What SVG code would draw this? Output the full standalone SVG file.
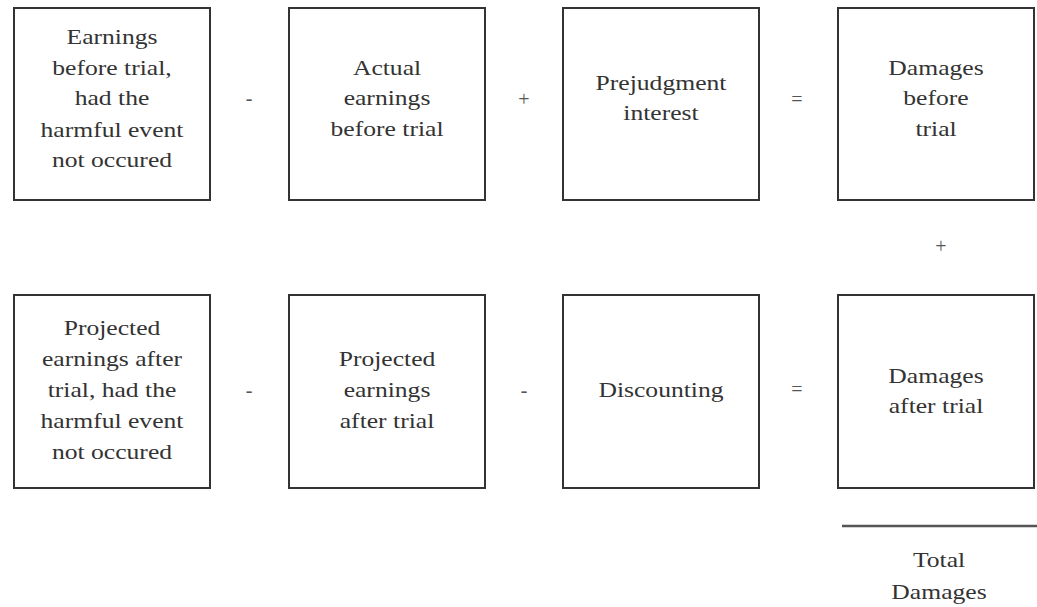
<svg xmlns="http://www.w3.org/2000/svg" width="1037" height="607" viewBox="0 0 1037 607">
<style>
.box{fill:#fff;stroke:#333;stroke-width:2}
text{font-family:"Liberation Serif","Times New Roman",serif;font-size:21px;fill:#333;text-anchor:middle}
.op{font-size:20px;fill:#555}
</style>
<rect width="1037" height="607" fill="#fff"/>
<g id="n1"><rect class="box" x="14" y="8" width="196" height="192"/>
<g transform="translate(112 0) scale(1.22 1)"><text x="0" y="44">Earnings</text><text x="0" y="75">before trial,</text><text x="0" y="105">had the</text><text x="0" y="137">harmful event</text><text x="0" y="167">not occured</text></g></g>
<g id="n2"><rect class="box" x="289" y="8" width="196" height="192"/>
<g transform="translate(387 0) scale(1.22 1)"><text x="0" y="75">Actual</text><text x="0" y="105">earnings</text><text x="0" y="136">before trial</text></g></g>
<g id="n3"><rect class="box" x="563" y="8" width="196" height="192"/>
<g transform="translate(661 0) scale(1.22 1)"><text x="0" y="90">Prejudgment</text><text x="0" y="120">interest</text></g></g>
<g id="n4"><rect class="box" x="838" y="8" width="196" height="192"/>
<g transform="translate(936 0) scale(1.22 1)"><text x="0" y="75">Damages</text><text x="0" y="105">before</text><text x="0" y="136">trial</text></g></g>
<g id="n5"><rect class="box" x="14" y="295" width="196" height="193"/>
<g transform="translate(112 0) scale(1.22 1)"><text x="0" y="335">Projected</text><text x="0" y="366">earnings after</text><text x="0" y="397">trial, had the</text><text x="0" y="428">harmful event</text><text x="0" y="459">not occured</text></g></g>
<g id="n6"><rect class="box" x="289" y="295" width="196" height="193"/>
<g transform="translate(387 0) scale(1.22 1)"><text x="0" y="366">Projected</text><text x="0" y="397">earnings</text><text x="0" y="428">after trial</text></g></g>
<g id="n7"><rect class="box" x="563" y="295" width="196" height="193"/>
<g transform="translate(661 0) scale(1.22 1)"><text x="0" y="397">Discounting</text></g></g>
<g id="n8"><rect class="box" x="838" y="295" width="196" height="193"/>
<g transform="translate(936 0) scale(1.22 1)"><text x="0" y="383">Damages</text><text x="0" y="413">after trial</text></g></g>
<g id="connectors">
<text class="op" x="249" y="105">-</text>
<text class="op" x="524" y="106">+</text>
<text class="op" x="797" y="106">=</text>
<text class="op" x="941" y="253">+</text>
<text class="op" x="249" y="397">-</text>
<text class="op" x="524" y="397">-</text>
<text class="op" x="797" y="396">=</text>
<line x1="842" y1="526" x2="1037" y2="526" stroke="#555" stroke-width="2.5"/>
</g>
<g id="total"><g transform="translate(939 0) scale(1.22 1)"><text x="0" y="567">Total</text><text x="0" y="599">Damages</text></g></g>
</svg>
